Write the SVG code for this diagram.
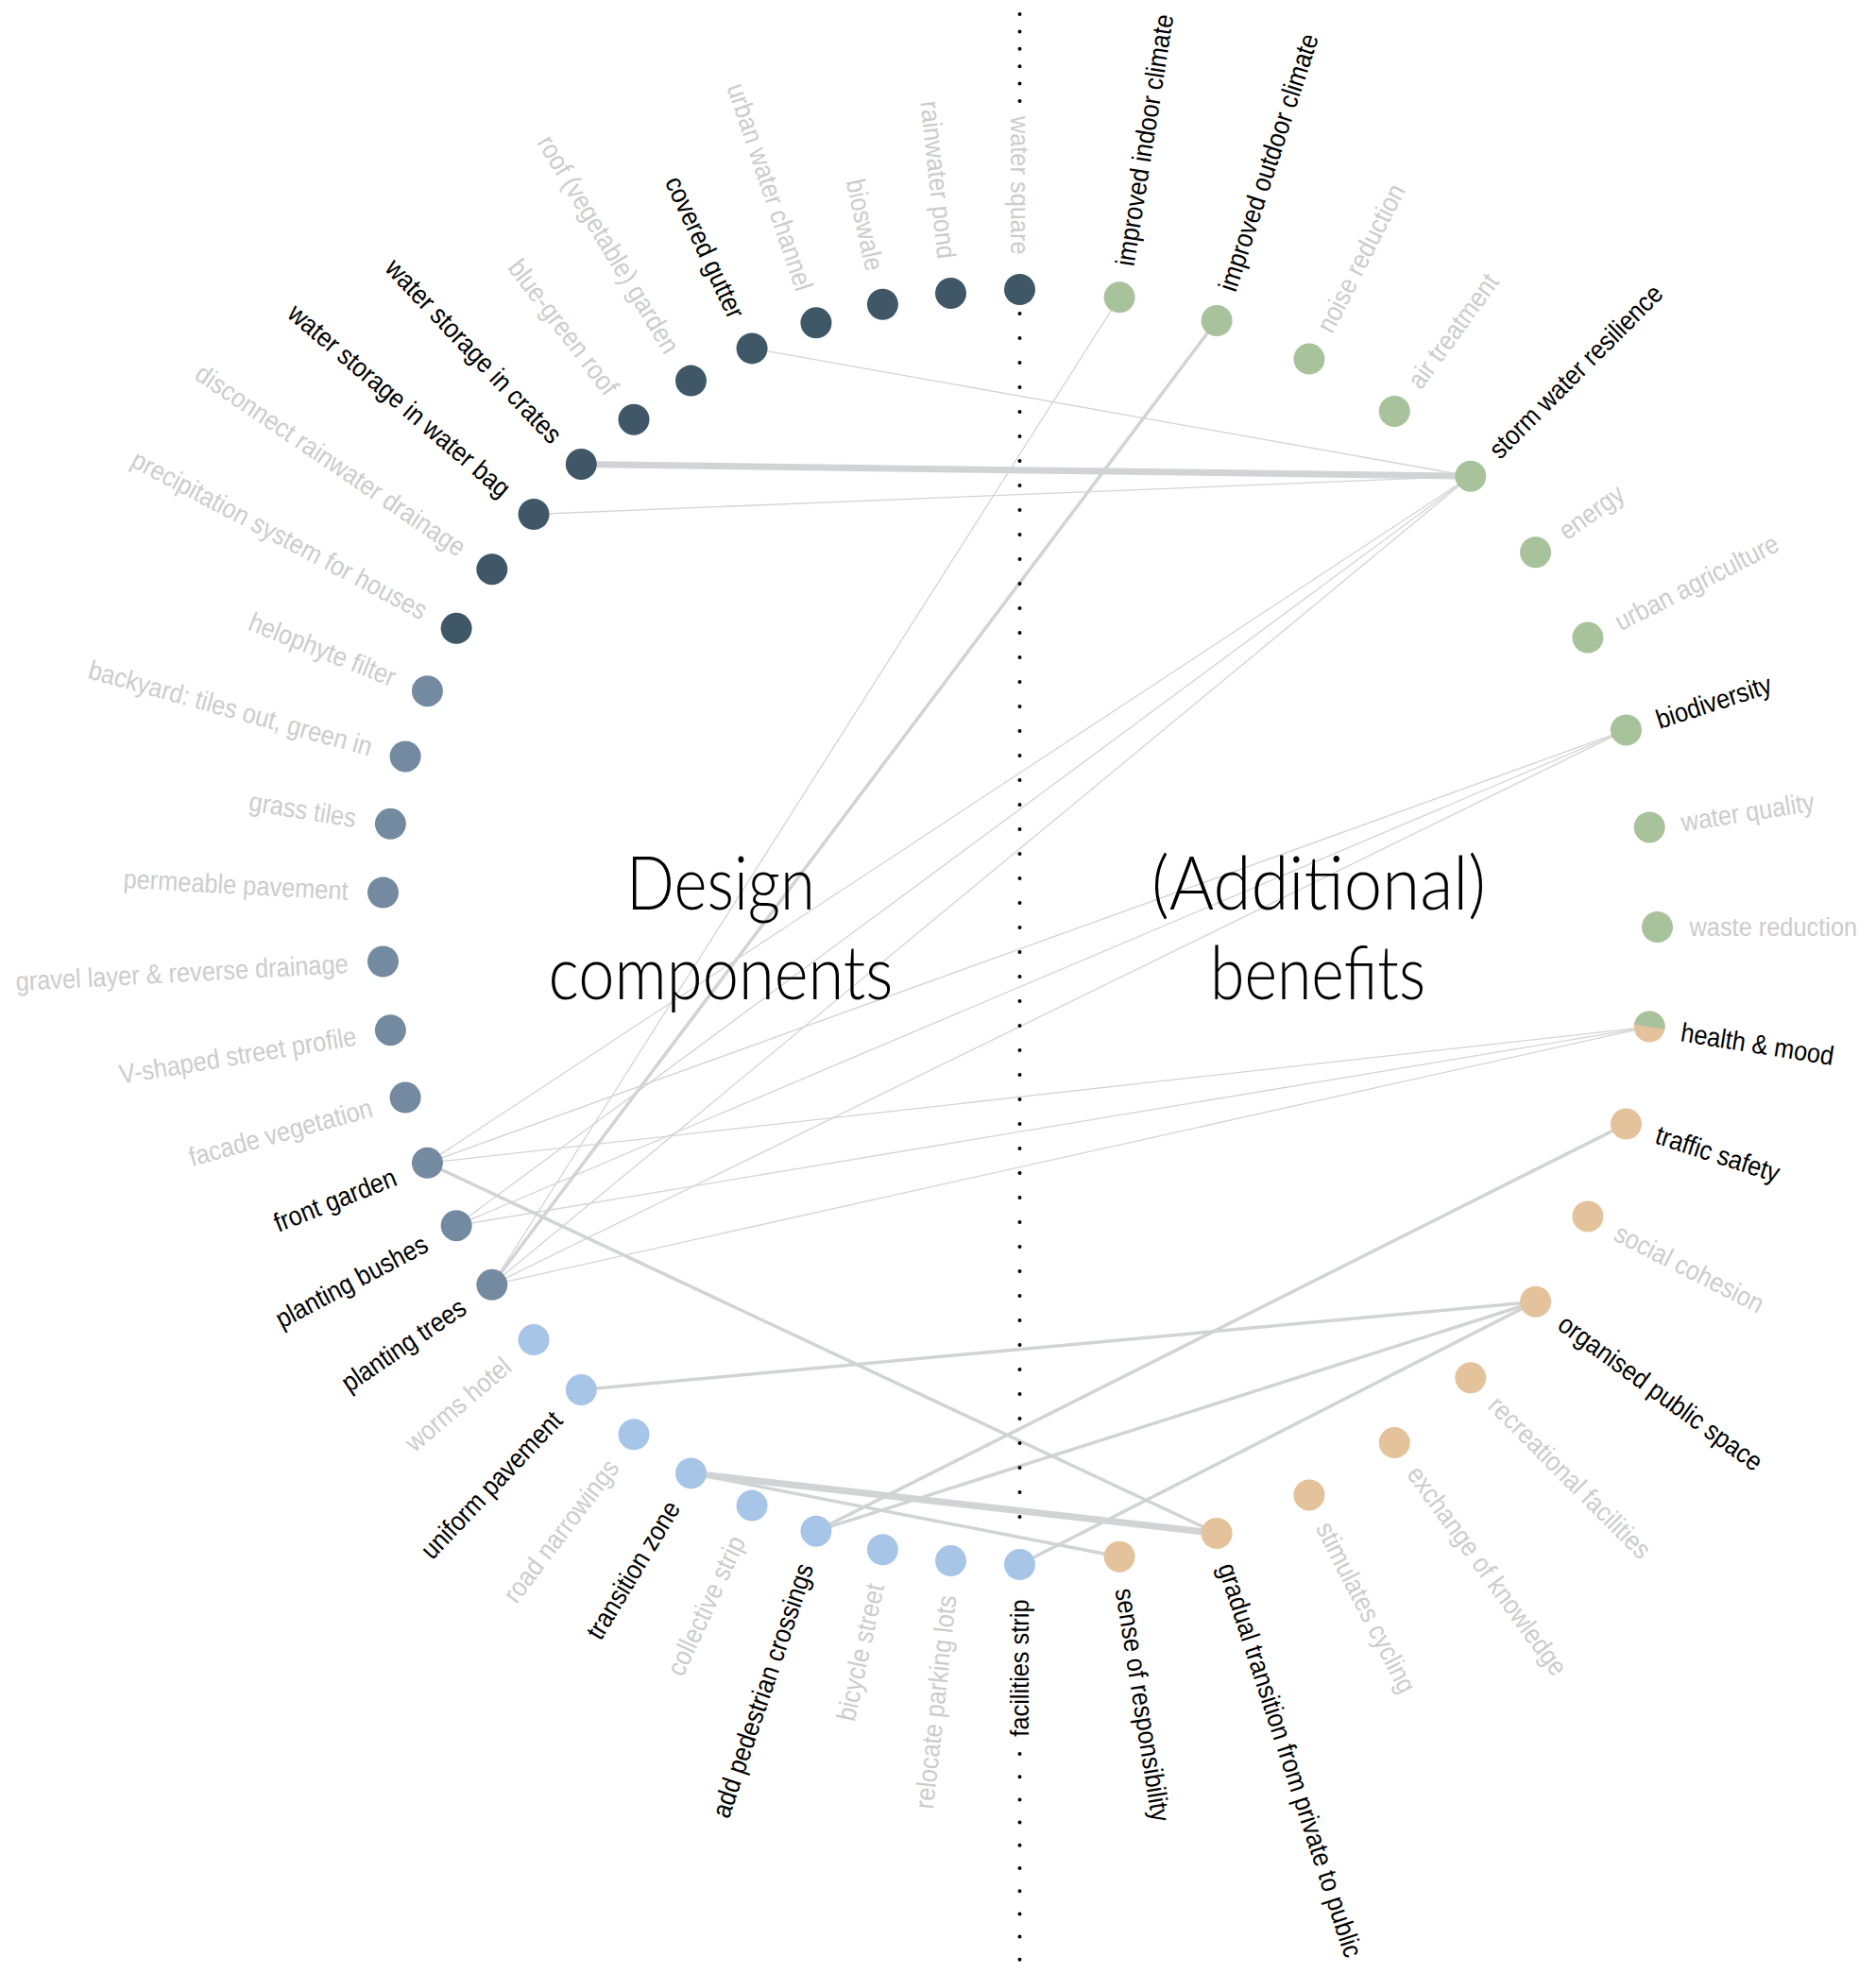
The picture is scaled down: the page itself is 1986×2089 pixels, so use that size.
<svg xmlns="http://www.w3.org/2000/svg" width="1986" height="2089" viewBox="0 0 1986 2089">
<style>
.bg{fill:#ffffff}
.lbl{font-family:"Liberation Sans",Arial,sans-serif;font-size:28.5px}
.off{fill:#cccccc}
.on{fill:#000000}
.le{text-anchor:end}
.rs{text-anchor:start}
.navy{fill:#3f5767}
.slate{fill:#738aa0}
.sky{fill:#a7c5e7}
.green{fill:#a8c29c}
.tan{fill:#e4c29b}
.c1{stroke:#d4d4d4;stroke-width:1.3;fill:none}
.c2{stroke:#d2d3d4;stroke-width:3.5;fill:none}
.c3{stroke:#d2d3d4;stroke-width:7;fill:none}
.dots{stroke:#000;stroke-width:4;stroke-linecap:round;fill:none}
.title{font-family:Lato,"Open Sans",sans-serif;font-weight:300;font-size:78px;fill:#000;text-anchor:middle}
</style>
<rect class="bg" x="0" y="0" width="1986" height="2089"/>

<g id="connectors">
<line class="c1" x1="796.07" y1="368.88" x2="1556.8" y2="504.2"/>
<line class="c1" x1="565.04" y1="544.52" x2="1556.8" y2="504.2"/>
<line class="c1" x1="452.44" y1="1231.34" x2="1556.8" y2="504.2"/>
<line class="c1" x1="483.13" y1="1297.68" x2="1556.8" y2="504.2"/>
<line class="c1" x1="520.81" y1="1360.3" x2="1556.8" y2="504.2"/>
<line class="c1" x1="452.44" y1="1231.34" x2="1721.46" y2="772.91"/>
<line class="c1" x1="483.13" y1="1297.68" x2="1721.46" y2="772.91"/>
<line class="c1" x1="520.81" y1="1360.3" x2="1721.46" y2="772.91"/>
<line class="c1" x1="452.44" y1="1231.34" x2="1746.19" y2="1087.09"/>
<line class="c1" x1="483.13" y1="1297.68" x2="1746.19" y2="1087.09"/>
<line class="c1" x1="520.81" y1="1360.3" x2="1746.19" y2="1087.09"/>
<line class="c1" x1="520.81" y1="1360.3" x2="1185.09" y2="314.81"/>
<line class="c2" x1="520.81" y1="1360.3" x2="1288.09" y2="339.54"/>
<line class="c3" x1="615.3" y1="491.45" x2="1556.8" y2="504.2"/>
<line class="c2" x1="452.44" y1="1231.34" x2="1288.09" y2="1623.46"/>
<line class="c2" x1="615.3" y1="1471.55" x2="1625.59" y2="1378.26"/>
<line class="c3" x1="731.5" y1="1559.88" x2="1288.09" y2="1623.46"/>
<line class="c2" x1="731.5" y1="1559.88" x2="1185.09" y2="1648.19"/>
<line class="c2" x1="863.97" y1="1621.16" x2="1721.46" y2="1190.09"/>
<line class="c2" x1="863.97" y1="1621.16" x2="1625.59" y2="1378.26"/>
<line class="c2" x1="1079.5" y1="1656.5" x2="1625.59" y2="1378.26"/>
</g>

<g id="divider">
<line class="dots" x1="1079.5" y1="15" x2="1079.5" y2="107" stroke-dasharray="0 18.4"/>
<line class="dots" x1="1079.5" y1="332" x2="1079.5" y2="1632" stroke-dasharray="0 26"/>
<line class="dots" x1="1079.5" y1="1857" x2="1079.5" y2="2075" stroke-dasharray="0 24.2"/>
</g>

<g id="titles">
<text class="title" x="763" y="963" textLength="200" lengthAdjust="spacingAndGlyphs">Design</text>
<text class="title" x="763" y="1058" textLength="365" lengthAdjust="spacingAndGlyphs">components</text>
<text class="title" x="1396" y="963" textLength="354" lengthAdjust="spacingAndGlyphs">(Additional)</text>
<text class="title" x="1395" y="1058" textLength="228" lengthAdjust="spacingAndGlyphs">benefits</text>
</g>

<g id="design-components">
<g id="node-water-square"><circle class="navy" cx="1079.5" cy="306.5" r="16.5"/><text class="lbl le off" dy=".35em" transform="translate(1079.5 981.5) rotate(90) translate(-712 0) scale(0.89 1)">water square</text></g>
<g id="node-rainwater-pond"><circle class="navy" cx="1006.52" cy="310.45" r="16.5"/><text class="lbl le off" dy=".35em" transform="translate(1079.5 981.5) rotate(83.7931) translate(-712 0) scale(0.89 1)">rainwater pond</text></g>
<g id="node-bioswale"><circle class="navy" cx="934.4" cy="322.28" r="16.5"/><text class="lbl le off" dy=".35em" transform="translate(1079.5 981.5) rotate(77.5862) translate(-712 0) scale(0.89 1)">bioswale</text></g>
<g id="node-urban-water-channel"><circle class="navy" cx="863.97" cy="341.84" r="16.5"/><text class="lbl le off" dy=".35em" transform="translate(1079.5 981.5) rotate(71.3793) translate(-712 0) scale(0.89 1)">urban water channel</text></g>
<g id="node-covered-gutter"><circle class="navy" cx="796.07" cy="368.88" r="16.5"/><text class="lbl le on" dy=".35em" transform="translate(1079.5 981.5) rotate(65.1724) translate(-712 0) scale(0.89 1)">covered gutter</text></g>
<g id="node-roof-garden"><circle class="navy" cx="731.5" cy="403.12" r="16.5"/><text class="lbl le off" dy=".35em" transform="translate(1079.5 981.5) rotate(58.9655) translate(-712 0) scale(0.89 1)">roof (vegetable) garden</text></g>
<g id="node-blue-green-roof"><circle class="navy" cx="671.01" cy="444.14" r="16.5"/><text class="lbl le off" dy=".35em" transform="translate(1079.5 981.5) rotate(52.7586) translate(-712 0) scale(0.89 1)">blue-green roof</text></g>
<g id="node-water-storage-crates"><circle class="navy" cx="615.3" cy="491.45" r="16.5"/><text class="lbl le on" dy=".35em" transform="translate(1079.5 981.5) rotate(46.5517) translate(-712 0) scale(0.89 1)">water storage in crates</text></g>
<g id="node-water-storage-bag"><circle class="navy" cx="565.04" cy="544.52" r="16.5"/><text class="lbl le on" dy=".35em" transform="translate(1079.5 981.5) rotate(40.3448) translate(-712 0) scale(0.89 1)">water storage in water bag</text></g>
<g id="node-disconnect-drainage"><circle class="navy" cx="520.81" cy="602.7" r="16.5"/><text class="lbl le off" dy=".35em" transform="translate(1079.5 981.5) rotate(34.1379) translate(-712 0) scale(0.89 1)">disconnect rainwater drainage</text></g>
<g id="node-precipitation-system"><circle class="navy" cx="483.13" cy="665.32" r="16.5"/><text class="lbl le off" dy=".35em" transform="translate(1079.5 981.5) rotate(27.931) translate(-712 0) scale(0.89 1)">precipitation system for houses</text></g>
<g id="node-helophyte-filter"><circle class="slate" cx="452.44" cy="731.66" r="16.5"/><text class="lbl le off" dy=".35em" transform="translate(1079.5 981.5) rotate(21.7241) translate(-712 0) scale(0.89 1)">helophyte filter</text></g>
<g id="node-backyard"><circle class="slate" cx="429.1" cy="800.92" r="16.5"/><text class="lbl le off" dy=".35em" transform="translate(1079.5 981.5) rotate(15.5172) translate(-712 0) scale(0.89 1)">backyard: tiles out, green in</text></g>
<g id="node-grass-tiles"><circle class="slate" cx="413.39" cy="872.3" r="16.5"/><text class="lbl le off" dy=".35em" transform="translate(1079.5 981.5) rotate(9.3103) translate(-712 0) scale(0.89 1)">grass tiles</text></g>
<g id="node-permeable-pavement"><circle class="slate" cx="405.49" cy="944.96" r="16.5"/><text class="lbl le off" dy=".35em" transform="translate(1079.5 981.5) rotate(3.1034) translate(-712 0) scale(0.89 1)">permeable pavement</text></g>
<g id="node-gravel-layer"><circle class="slate" cx="405.49" cy="1018.04" r="16.5"/><text class="lbl le off" dy=".35em" transform="translate(1079.5 981.5) rotate(-3.1034) translate(-712 0) scale(0.89 1)">gravel layer &amp; reverse drainage</text></g>
<g id="node-v-shaped-profile"><circle class="slate" cx="413.39" cy="1090.7" r="16.5"/><text class="lbl le off" dy=".35em" transform="translate(1079.5 981.5) rotate(-9.3103) translate(-712 0) scale(0.89 1)">V-shaped street profile</text></g>
<g id="node-facade-vegetation"><circle class="slate" cx="429.1" cy="1162.08" r="16.5"/><text class="lbl le off" dy=".35em" transform="translate(1079.5 981.5) rotate(-15.5172) translate(-712 0) scale(0.89 1)">facade vegetation</text></g>
<g id="node-front-garden"><circle class="slate" cx="452.44" cy="1231.34" r="16.5"/><text class="lbl le on" dy=".35em" transform="translate(1079.5 981.5) rotate(-21.7241) translate(-712 0) scale(0.89 1)">front garden</text></g>
<g id="node-planting-bushes"><circle class="slate" cx="483.13" cy="1297.68" r="16.5"/><text class="lbl le on" dy=".35em" transform="translate(1079.5 981.5) rotate(-27.931) translate(-712 0) scale(0.89 1)">planting bushes</text></g>
<g id="node-planting-trees"><circle class="slate" cx="520.81" cy="1360.3" r="16.5"/><text class="lbl le on" dy=".35em" transform="translate(1079.5 981.5) rotate(-34.1379) translate(-712 0) scale(0.89 1)">planting trees</text></g>
<g id="node-worms-hotel"><circle class="sky" cx="565.04" cy="1418.48" r="16.5"/><text class="lbl le off" dy=".35em" transform="translate(1079.5 981.5) rotate(-40.3448) translate(-712 0) scale(0.89 1)">worms hotel</text></g>
<g id="node-uniform-pavement"><circle class="sky" cx="615.3" cy="1471.55" r="16.5"/><text class="lbl le on" dy=".35em" transform="translate(1079.5 981.5) rotate(-46.5517) translate(-712 0) scale(0.89 1)">uniform pavement</text></g>
<g id="node-road-narrowings"><circle class="sky" cx="671.01" cy="1518.86" r="16.5"/><text class="lbl le off" dy=".35em" transform="translate(1079.5 981.5) rotate(-52.7586) translate(-712 0) scale(0.89 1)">road narrowings</text></g>
<g id="node-transition-zone"><circle class="sky" cx="731.5" cy="1559.88" r="16.5"/><text class="lbl le on" dy=".35em" transform="translate(1079.5 981.5) rotate(-58.9655) translate(-712 0) scale(0.89 1)">transition zone</text></g>
<g id="node-collective-strip"><circle class="sky" cx="796.07" cy="1594.12" r="16.5"/><text class="lbl le off" dy=".35em" transform="translate(1079.5 981.5) rotate(-65.1724) translate(-712 0) scale(0.89 1)">collective strip</text></g>
<g id="node-pedestrian-crossings"><circle class="sky" cx="863.97" cy="1621.16" r="16.5"/><text class="lbl le on" dy=".35em" transform="translate(1079.5 981.5) rotate(-71.3793) translate(-712 0) scale(0.89 1)">add pedestrian crossings</text></g>
<g id="node-bicycle-street"><circle class="sky" cx="934.4" cy="1640.72" r="16.5"/><text class="lbl le off" dy=".35em" transform="translate(1079.5 981.5) rotate(-77.5862) translate(-712 0) scale(0.89 1)">bicycle street</text></g>
<g id="node-relocate-parking"><circle class="sky" cx="1006.52" cy="1652.55" r="16.5"/><text class="lbl le off" dy=".35em" transform="translate(1079.5 981.5) rotate(-83.7931) translate(-712 0) scale(0.89 1)">relocate parking lots</text></g>
<g id="node-facilities-strip"><circle class="sky" cx="1079.5" cy="1656.5" r="16.5"/><text class="lbl le on" dy=".35em" transform="translate(1079.5 981.5) rotate(-90) translate(-712 0) scale(0.89 1)">facilities strip</text></g>
</g>

<g id="benefits">
<g id="node-indoor-climate"><circle class="green" cx="1185.09" cy="314.81" r="16.5"/><text class="lbl rs on" dy=".35em" transform="translate(1079.5 981.5) rotate(-81) translate(709 0) scale(0.89 1)">improved indoor climate</text></g>
<g id="node-outdoor-climate"><circle class="green" cx="1288.09" cy="339.54" r="16.5"/><text class="lbl rs on" dy=".35em" transform="translate(1079.5 981.5) rotate(-72) translate(709 0) scale(0.89 1)">improved outdoor climate</text></g>
<g id="node-noise-reduction"><circle class="green" cx="1385.94" cy="380.07" r="16.5"/><text class="lbl rs off" dy=".35em" transform="translate(1079.5 981.5) rotate(-63) translate(709 0) scale(0.89 1)">noise reduction</text></g>
<g id="node-air-treatment"><circle class="green" cx="1476.26" cy="435.41" r="16.5"/><text class="lbl rs off" dy=".35em" transform="translate(1079.5 981.5) rotate(-54) translate(709 0) scale(0.89 1)">air treatment</text></g>
<g id="node-storm-water"><circle class="green" cx="1556.8" cy="504.2" r="16.5"/><text class="lbl rs on" dy=".35em" transform="translate(1079.5 981.5) rotate(-45) translate(709 0) scale(0.89 1)">storm water resilience</text></g>
<g id="node-energy"><circle class="green" cx="1625.59" cy="584.74" r="16.5"/><text class="lbl rs off" dy=".35em" transform="translate(1079.5 981.5) rotate(-36) translate(709 0) scale(0.89 1)">energy</text></g>
<g id="node-urban-agriculture"><circle class="green" cx="1680.93" cy="675.06" r="16.5"/><text class="lbl rs off" dy=".35em" transform="translate(1079.5 981.5) rotate(-27) translate(709 0) scale(0.89 1)">urban agriculture</text></g>
<g id="node-biodiversity"><circle class="green" cx="1721.46" cy="772.91" r="16.5"/><text class="lbl rs on" dy=".35em" transform="translate(1079.5 981.5) rotate(-18) translate(709 0) scale(0.89 1)">biodiversity</text></g>
<g id="node-water-quality"><circle class="green" cx="1746.19" cy="875.91" r="16.5"/><text class="lbl rs off" dy=".35em" transform="translate(1079.5 981.5) rotate(-9) translate(709 0) scale(0.89 1)">water quality</text></g>
<g id="node-waste-reduction"><circle class="green" cx="1754.5" cy="981.5" r="16.5"/><text class="lbl rs off" dy=".35em" transform="translate(1079.5 981.5) rotate(0) translate(709 0) scale(0.89 1)">waste reduction</text></g>
<g id="node-health-mood"><circle class="tan" cx="1746.19" cy="1087.09" r="16.5"/><path class="green" d="M1729.89 1084.51 A16.5 16.5 0 0 1 1762.49 1089.67 Z"/><text class="lbl rs on" dy=".35em" transform="translate(1079.5 981.5) rotate(9) translate(709 0) scale(0.89 1)">health &amp; mood</text></g>
<g id="node-traffic-safety"><circle class="tan" cx="1721.46" cy="1190.09" r="16.5"/><text class="lbl rs on" dy=".35em" transform="translate(1079.5 981.5) rotate(18) translate(709 0) scale(0.89 1)">traffic safety</text></g>
<g id="node-social-cohesion"><circle class="tan" cx="1680.93" cy="1287.94" r="16.5"/><text class="lbl rs off" dy=".35em" transform="translate(1079.5 981.5) rotate(27) translate(709 0) scale(0.89 1)">social cohesion</text></g>
<g id="node-organised-public-space"><circle class="tan" cx="1625.59" cy="1378.26" r="16.5"/><text class="lbl rs on" dy=".35em" transform="translate(1079.5 981.5) rotate(36) translate(709 0) scale(0.89 1)">organised public space</text></g>
<g id="node-recreational-facilities"><circle class="tan" cx="1556.8" cy="1458.8" r="16.5"/><text class="lbl rs off" dy=".35em" transform="translate(1079.5 981.5) rotate(45) translate(709 0) scale(0.89 1)">recreational facilities</text></g>
<g id="node-exchange-knowledge"><circle class="tan" cx="1476.26" cy="1527.59" r="16.5"/><text class="lbl rs off" dy=".35em" transform="translate(1079.5 981.5) rotate(54) translate(709 0) scale(0.89 1)">exchange of knowledge</text></g>
<g id="node-stimulates-cycling"><circle class="tan" cx="1385.94" cy="1582.93" r="16.5"/><text class="lbl rs off" dy=".35em" transform="translate(1079.5 981.5) rotate(63) translate(709 0) scale(0.89 1)">stimulates cycling</text></g>
<g id="node-gradual-transition"><circle class="tan" cx="1288.09" cy="1623.46" r="16.5"/><text class="lbl rs on" dy=".35em" transform="translate(1079.5 981.5) rotate(72) translate(709 0) scale(0.89 1)">gradual transition from private to public</text></g>
<g id="node-sense-responsibility"><circle class="tan" cx="1185.09" cy="1648.19" r="16.5"/><text class="lbl rs on" dy=".35em" transform="translate(1079.5 981.5) rotate(81) translate(709 0) scale(0.89 1)">sense of responsibility</text></g>
</g>
</svg>
